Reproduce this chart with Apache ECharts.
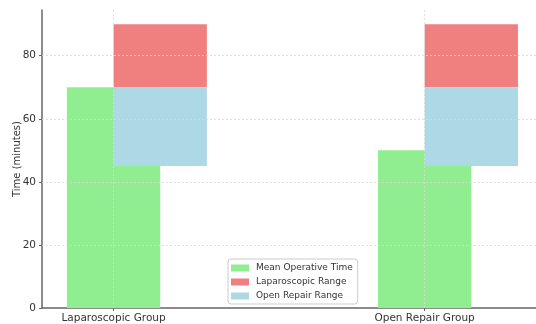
<!DOCTYPE html>
<html>
<head>
<meta charset="utf-8">
<script src="https://cdn.jsdelivr.net/npm/echarts@6/dist/echarts.min.js"></script>
<style>
  html, body { margin: 0; padding: 0; background: #fff; }
  #chart { width: 536px; height: 324px; }
</style>
</head>
<body>
<div id="chart"></div>
<script>
// Groups and their positions on the x scale
const categories = ['Laparoscopic Group', 'Open Repair Group'];
const groupPos = [0, 1];

// Mean operative time (minutes)
const meanTime = [70, 50];

// Range bands (minutes)
const openRepairLow = [45, 45];
const openRepairHigh = [70, 70];
const laparoscopicLow = [70, 70];
const laparoscopicHigh = [90, 90];

// Axis ticks
const yTicks = [0, 20, 40, 60, 80];
const yMax = 94.5;

const BAR_W = 0.3;          // bar width in x units
const gridColor = '#d9d9d9';
const axisColor = '#666';
const font = 'DejaVu Sans';

// Rectangle from (x0, y0) to (x1, y1) in data coordinates
function rectItem(color) {
  return function (params, api) {
    const x0 = api.value(0), x1 = api.value(1), y0 = api.value(2), y1 = api.value(3);
    const p0 = api.coord([x0, y1]);
    const p1 = api.coord([x1, y0]);
    return {
      type: 'rect',
      shape: { x: p0[0], y: p0[1], width: p1[0] - p0[0], height: p1[1] - p0[1] },
      style: { fill: color }
    };
  };
}

const meanData = groupPos.map((x, i) => [x - BAR_W / 2, x + BAR_W / 2, 0, meanTime[i]]);
const openData = groupPos.map((x, i) => [x, x + BAR_W, openRepairLow[i], openRepairHigh[i]]);
const lapData = groupPos.map((x, i) => [x, x + BAR_W, laparoscopicLow[i], laparoscopicHigh[i]]);

const chart = echarts.init(document.getElementById('chart'), null, { renderer: 'canvas' });

chart.setOption({
  animation: false,
  backgroundColor: '#fff',
  textStyle: { fontFamily: font },
  grid: { left: 42, top: 10, bottom: 16, right: 0, containLabel: false, outerBoundsMode: 'none' },
  legend: {
    data: ['Mean Operative Time', 'Laparoscopic Range', 'Open Repair Range'],
    orient: 'vertical',
    left: 228,
    top: 259,
    padding: [4, 5, 3, 3],
    itemWidth: 18,
    itemHeight: 7,
    itemGap: 4,
    borderColor: '#cccccc',
    borderWidth: 1,
    borderRadius: 3,
    backgroundColor: 'rgba(255,255,255,0.8)',
    icon: 'rect',
    textStyle: { fontSize: 9, color: '#333', fontFamily: font, lineHeight: 10, padding: [0, 0, 0, 2] }
  },
  xAxis: {
    type: 'value',
    min: -0.23,
    max: 1.358,
    axisLine: { show: true, onZero: false, lineStyle: { color: axisColor, width: 1.5 } },
    axisTick: { show: true, customValues: groupPos, length: 3, lineStyle: { color: axisColor } },
    axisLabel: {
      customValues: groupPos,
      formatter: v => categories[groupPos.indexOf(v)] || '',
      fontSize: 10.5, color: '#333', margin: 5, fontFamily: font
    },
    splitLine: { show: false }
  },
  yAxis: {
    type: 'value',
    min: 0,
    max: yMax,
    name: 'Time (minutes)',
    nameLocation: 'middle',
    nameGap: 20,
    nameMoveOverlap: false,
    nameTextStyle: { fontSize: 10, color: '#333', fontFamily: font },
    axisLine: { show: true, onZero: false, lineStyle: { color: axisColor, width: 1.5 } },
    axisTick: { show: true, customValues: yTicks, length: 3, lineStyle: { color: axisColor } },
    axisLabel: { customValues: yTicks, fontSize: 10.5, color: '#333', margin: 6, fontFamily: font },
    splitLine: { show: false }
  },
  series: [
    {
      name: 'Mean Operative Time',
      type: 'custom',
      renderItem: rectItem('#90EE90'),
      encode: { x: [0, 1], y: [2, 3] },
      data: meanData,
      itemStyle: { color: '#90EE90' },
      z: 2
    },
    {
      name: 'Laparoscopic Range',
      type: 'custom',
      renderItem: rectItem('#F08080'),
      encode: { x: [0, 1], y: [2, 3] },
      data: lapData,
      itemStyle: { color: '#F08080' },
      z: 3
    },
    {
      name: 'Open Repair Range',
      type: 'custom',
      renderItem: rectItem('#ADD8E6'),
      encode: { x: [0, 1], y: [2, 3] },
      data: openData,
      itemStyle: { color: '#ADD8E6' },
      z: 3
    },
    {
      // Grid lines drawn above the bars
      name: 'grid',
      type: 'line',
      data: [],
      silent: true,
      z: 5,
      markLine: {
        silent: true,
        symbol: 'none',
        label: { show: false },
        lineStyle: { color: gridColor, type: [2, 2], width: 1, opacity: 0.8 },
        data: [
          ...yTicks.filter(v => v > 0).map(v => ({ yAxis: v })),
          ...groupPos.map(v => ({ xAxis: v }))
        ]
      }
    }
  ]
});
</script>
</body>
</html>
